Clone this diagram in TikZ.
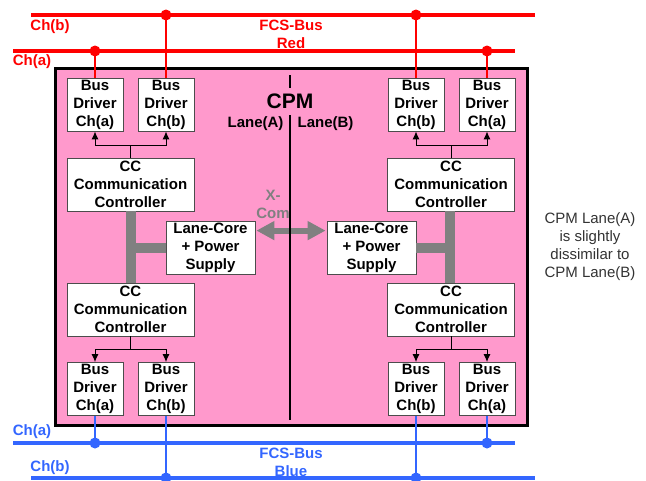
\documentclass[tikz,border=0pt]{standalone}
\usepackage{fontspec}
\setmainfont{Liberation Sans}
\usetikzlibrary{arrows.meta,calc,positioning}
\definecolor{cpmPink}{HTML}{FF99CC}
\definecolor{fcsRed}{HTML}{FF0000}
\definecolor{fcsBlue}{HTML}{3366FF}
\definecolor{coreGray}{HTML}{808080}

\begin{document}
\begin{tikzpicture}[x=1pt, y=-1pt,
    font=\fontsize{15}{18}\selectfont\bfseries,
    box/.style={draw=black!70, fill=white, align=center, inner sep=0pt, line width=0.8pt},
    driver/.style={box, minimum width=56pt, minimum height=53pt},
    ctrl/.style={box, minimum width=127pt, minimum height=53pt},
    core/.style={box, minimum width=89pt, minimum height=53pt},
    bus/.style={line width=4pt},
    tap/.style={line width=2pt},
    tapdot/.style={circle, fill, inner sep=0pt, minimum size=11pt},
    feed/.style={-{Latex[length=8pt,width=7pt]}, line width=1pt},
    bar/.style={coreGray, line width=10pt},
  ]
  \useasboundingbox (0,0) rectangle (646,480);
  % CPM frame
  \node[draw, line width=3pt, fill=cpmPink, inner sep=0pt,
        minimum width=472pt, minimum height=357pt] (cpm) at (291,246.5) {};
  \node[font=\fontsize{21}{24}\selectfont\bfseries] (cpmlbl) at (290,101.5) {CPM};
  \node (laneAlbl) at (255.5,124) {Lane(A)};
  \node (laneBlbl) at (325.5,124) {Lane(B)};
  % Buses
  \coordinate (redB) at (31,15);   \coordinate (redBend) at (535,15);
  \coordinate (redA) at (13,51);   \coordinate (redAend) at (515,51);
  \coordinate (blueA) at (13,443); \coordinate (blueAend) at (515,443);
  \coordinate (blueB) at (31,478); \coordinate (blueBend) at (535,478);
  \draw[bus, fcsRed] (redB) -- (redBend);
  \draw[bus, fcsRed] (redA) -- (redAend);
  \draw[bus, fcsBlue] (blueA) -- (blueAend);
  \draw[bus, fcsBlue] (blueB) -- (blueBend);
  \node[fcsRed] (redBlbl) at (50,27) {Ch(b)};
  \node[fcsRed] (redAlbl) at (32,62) {Ch(a)};
  \node[fcsRed, align=center] (redname) at (291,34) {FCS-Bus\\Red};
  \node[fcsBlue] (blueAlbl) at (32,432) {Ch(a)};
  \node[fcsBlue] (blueBlbl) at (50,468) {Ch(b)};
  \node[fcsBlue, align=center] (bluename) at (291,462) {FCS-Bus\\Blue};
  % Lane A
  \node[driver] (drvAa) at (95,104.5) {Bus\\Driver\\Ch(a)};
  \node[driver] (drvAb) at (166,104.5) {Bus\\Driver\\Ch(b)};
  \node[ctrl] (ccA1) at (130.5,184.5) {CC\\Communication\\Controller};
  \node[core] (coreA) at (210.5,247.5) {Lane-Core\\+ Power\\Supply};
  \node[ctrl] (ccA2) at (130.5,309.5) {CC\\Communication\\Controller};
  \node[driver] (drvAa2) at (95,389) {Bus\\Driver\\Ch(a)};
  \node[driver] (drvAb2) at (166,389) {Bus\\Driver\\Ch(b)};
  % Lane B
  \node[driver] (drvBb) at (416,104.5) {Bus\\Driver\\Ch(b)};
  \node[driver] (drvBa) at (487,104.5) {Bus\\Driver\\Ch(a)};
  \node[ctrl] (ccB1) at (451,184.5) {CC\\Communication\\Controller};
  \node[core] (coreB) at (371.5,247.5) {Lane-Core\\+ Power\\Supply};
  \node[ctrl] (ccB2) at (451,309.5) {CC\\Communication\\Controller};
  \node[driver] (drvBb2) at (416,389) {Bus\\Driver\\Ch(b)};
  \node[driver] (drvBa2) at (487,389) {Bus\\Driver\\Ch(a)};
  % Core links
  \draw[bar] (ccA1.south) -- (ccA2.north);
  \draw[bar] (ccA1.south |- coreA.west) -- (coreA.west);
  \draw[bar] ($(ccB1.south)+(-1,0)$) -- ($(ccB2.north)+(-1,0)$);
  \draw[bar] ($(ccB1.south |- coreB.east)+(-1,0)$) -- (coreB.east);
  % X-Com
  \node[coreGray, align=center] (xcom) at (273,204.5) {X-\\Com};
  \draw[coreGray, line width=6pt, {Triangle[length=18pt,width=18pt]}-{Triangle[length=18pt,width=18pt]}]
    ($(coreA.north east)+(1,10)$) -- ($(coreB.north west)+(-1,10)$);
  % Lane divider
  \draw[line width=2pt] (290,75) -- (290,88);
  \draw[line width=2pt] (290,115) -- (290,420);
  % Controller to drivers
  \foreach \cc/\da/\db in {ccA1/drvAa/drvAb, ccB1/drvBb/drvBa} {
    \coordinate (br) at ($(\cc.north)+(0,-12)$);
    \draw[line width=1pt] (\cc.north) -- (br);
    \draw[feed] (br) -| (\da.south);
    \draw[feed] (br) -| (\db.south);
  }
  \foreach \cc/\da/\db in {ccA2/drvAa2/drvAb2, ccB2/drvBb2/drvBa2} {
    \coordinate (br) at ($(\cc.south)+(0,13)$);
    \draw[line width=1pt] (\cc.south) -- (br);
    \draw[feed] (br) -| (\da.north);
    \draw[feed] (br) -| (\db.north);
  }
  % Bus taps
  \foreach \drv/\line/\col in {drvAa/redA/fcsRed, drvAb/redB/fcsRed, drvBb/redB/fcsRed, drvBa/redA/fcsRed} {
    \node[tapdot, \col] (t-\drv) at (\drv.north |- \line) {};
    \draw[tap, \col] (\drv.north) -- (t-\drv.center);
  }
  \foreach \drv/\line/\col in {drvAa2/blueA/fcsBlue, drvAb2/blueB/fcsBlue, drvBb2/blueB/fcsBlue, drvBa2/blueA/fcsBlue} {
    \node[tapdot, \col] (t-\drv) at (\drv.south |- \line) {};
    \draw[tap, \col] (\drv.south) -- (t-\drv.center);
  }
  % Note
  \node[align=center, text=black!80, font=\fontsize{15}{18}\selectfont\mdseries] (note) at (590,246.5)
    {CPM Lane(A)\\is slightly\\dissimilar to\\CPM Lane(B)};
\end{tikzpicture}
\end{document}
